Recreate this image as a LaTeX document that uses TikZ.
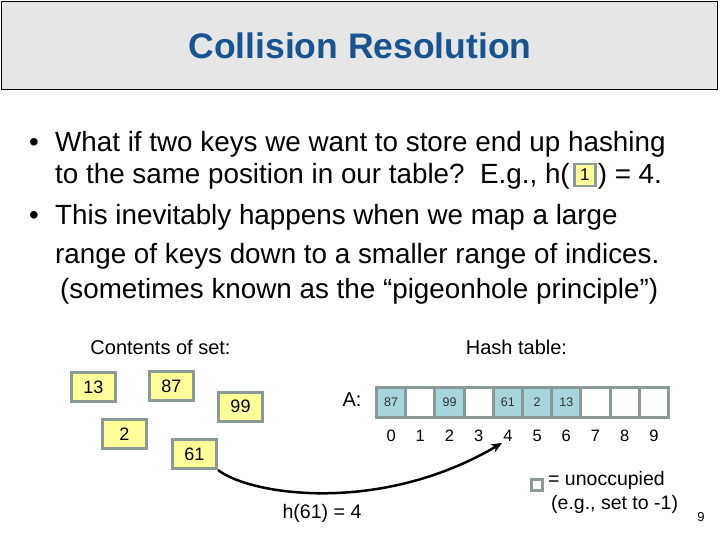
\documentclass[tikz,border=0pt]{standalone}
\usepackage{fontspec}
\setmainfont{Liberation Sans}
\usetikzlibrary{arrows.meta,calc}
\definecolor{titleblue}{RGB}{24,84,146}
\definecolor{titlebg}{RGB}{230,230,230}
\definecolor{yfill}{RGB}{255,255,153}
\definecolor{bgray}{RGB}{138,154,150}
\definecolor{cellteal}{RGB}{166,214,220}
\newcommand{\fsz}[1]{\fontsize{#1}{#1}\selectfont}
\begin{document}
\begin{tikzpicture}[x=1pt,y=-1pt,
  setbox/.style={draw=bgray, line width=3pt, fill=yfill, minimum width=44pt, minimum height=29pt, inner sep=0pt, font=\fsz{18}},
  keybox/.style={draw=bgray, line width=2.6pt, fill=yfill, minimum width=21pt, minimum height=22pt, inner sep=0pt, font=\fsz{17}},
  cell/.style={draw=bgray, line width=3pt, fill=white, minimum width=29.2pt, minimum height=30pt, inner sep=0pt, font=\fsz{12.5}\color{black!80}},
  full/.style={cell, fill=cellteal},
  idx/.style={font=\fsz{16.5}, inner sep=1pt},
  bullettext/.style={anchor=base west, inner sep=0pt, font=\fsz{27.8}},
  lbl/.style={font=\fsz{20}, inner sep=0pt}
]
\useasboundingbox (0,0) rectangle (720,540);
\node[draw=black, line width=1.5pt, fill=titlebg, minimum width=716pt, minimum height=88pt, anchor=north west, inner sep=0pt] (titlebox) at (0.75,0.75) {};
\node[font=\fsz{35.5}\bfseries, text=titleblue] (title) at (360,46) {Collision Resolution};

\node[bullettext] (d1) at (29,152) {\textbullet};
\node[bullettext] (b1) at (55,152) {What if two keys we want to store end up hashing};
\node[bullettext] (b2a) at (55,184) {to the same position in our table?\ \ E.g., h(};
\node[keybox, anchor=west] (key) at ($(b2a.base east)+(3,-9)$) {1};
\node[bullettext] (b2b) at ($(key.east)+(1,9)$) {) = 4.};
\node[bullettext] (d2) at (29,225) {\textbullet};
\node[bullettext] (b3) at (55,225) {This inevitably happens when we map a large};
\node[bullettext] (b4) at (55,263) {range of keys down to a smaller range of indices.};
\node[bullettext] (b5) at (60,298) {(sometimes known as the “pigeonhole principle”)};

\node[lbl] (contents) at (160.5,347) {Contents of set:};
\node[lbl] (hashlbl) at (516.5,347) {Hash table:};

\node[setbox] (s13) at (93.5,387) {13};
\node[setbox] (s87) at (171.5,386) {87};
\node[setbox] (s99) at (240.5,406.5) {99};
\node[setbox] (s2) at (124.5,434) {2};
\node[setbox] (s61) at (194.5,454) {61};

\node[font=\fsz{20}, inner sep=0pt] (alabel) at (352,400) {A:};

\foreach \i/\v/\s in {0/87/full,1//cell,2/99/full,3//cell,4/61/full,5/2/full,6/13/full,7//cell,8//cell,9//cell}{
  \node[\s] (c\i) at ({376.5+29.2*(\i+0.5)},402.5) {\v};
  \node[idx] (i\i) at ({376.5+29.2*(\i+0.5)},436) {\i};
}

\draw[line width=2.5pt, -{Stealth[length=11pt,width=9pt]}] (s61.south east) .. controls (250,495) and (380,515) .. (i4.south west);
\node[font=\fsz{19.6}, inner sep=0pt] (hlabel) at (322,513) {h(61) = 4};

\node[draw=bgray, line width=2.5pt, fill=white, minimum size=11pt, inner sep=0pt] (legbox) at (537,485) {};
\node[font=\fsz{19.5}, inner sep=0pt, anchor=base west] (leg1) at (548,485) {= unoccupied};
\node[font=\fsz{19.5}, inner sep=0pt, anchor=base west] (leg2) at (551,509) {(e.g., set to -1)};
\node[font=\fsz{13}, anchor=base, inner sep=0pt] (page) at (701,521) {9};
\end{tikzpicture}
\end{document}
